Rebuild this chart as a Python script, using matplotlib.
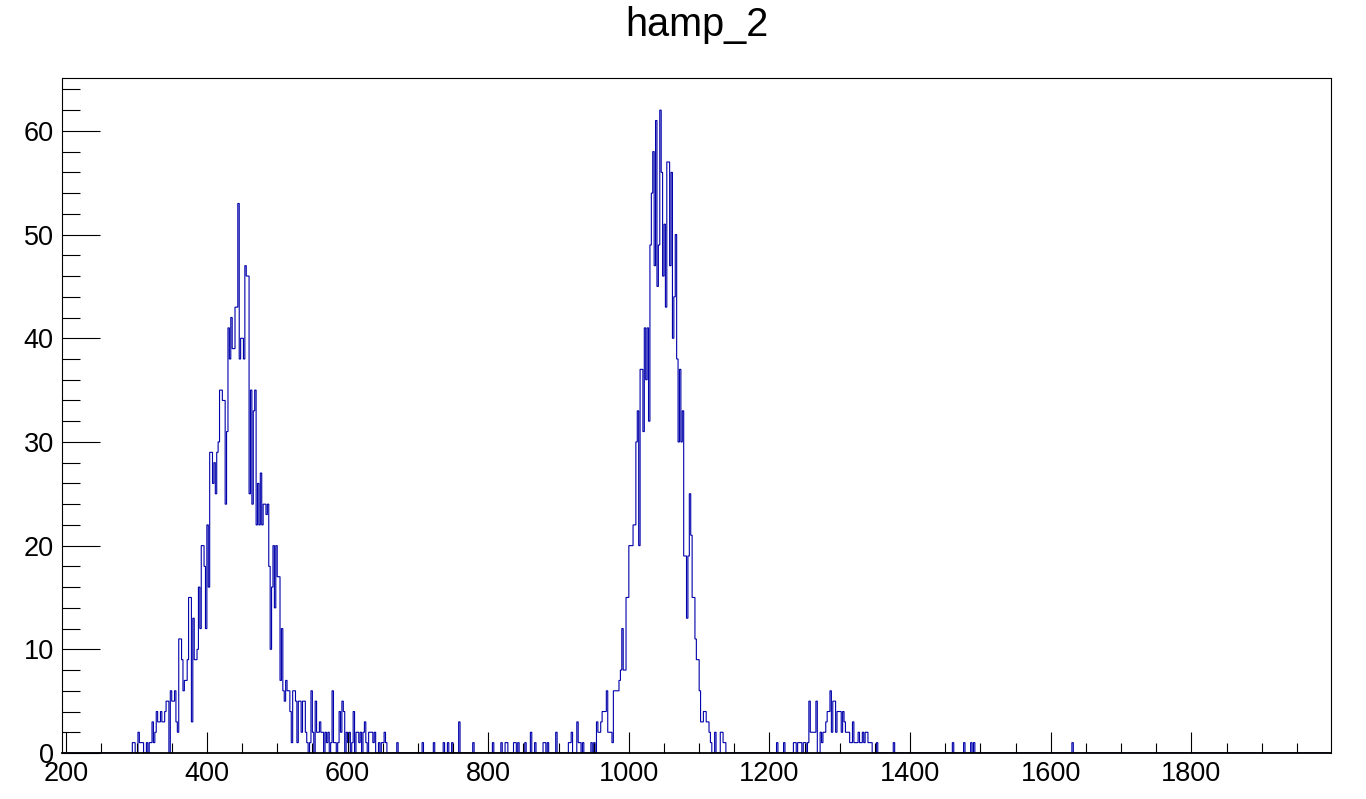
import numpy as np
import matplotlib
matplotlib.use("Agg")
import matplotlib.pyplot as plt
from matplotlib.ticker import MultipleLocator

# --- histogram data (bin width 2, counts) ----------------------------------
TITLE = "hamp_2"
BIN_WIDTH = 2
X_RANGE = (194, 1998)

# first peak, bins starting at 292
PEAK1_START = 292
PEAK1_COUNTS = [
    0, 1, 1, 0, 0, 2, 1, 1, 1, 0, 0, 1, 0, 1, 1, 3, 1, 2, 4, 3,
    3, 4, 3, 3, 4, 5, 5, 0, 6, 5, 5, 6, 3, 2, 11, 11, 9, 6, 7, 7,
    9, 15, 15, 3, 13, 9, 9, 10, 16, 12, 20, 20, 18, 12, 22, 16, 29, 29, 26, 28,
    25, 29, 30, 35, 35, 34, 34, 24, 31, 41, 38, 42, 39, 39, 43, 43, 53, 38, 40, 40,
    38, 47, 46, 46, 25, 35, 24, 33, 35, 22, 26, 22, 27, 22, 24, 24, 23, 24, 18, 10,
    16, 20, 14, 20, 17, 17, 7, 12, 6, 5, 7, 6, 6, 4, 1, 6, 6, 5, 1, 5,
    5, 2, 5, 5, 2, 1, 0, 1, 6, 2, 0, 5, 2, 2, 3, 2, 2, 0, 2, 1,
    2, 0, 1, 6, 1, 1, 0, 1, 4, 2, 5, 4, 0, 2, 1, 2, 0, 1, 4, 0,
    2, 2, 1, 2, 0, 2, 3, 1, 0, 2, 2, 2, 1, 2, 0, 0, 1, 0, 1, 1,
    2, 1,
]

# second peak, bins starting at 914
PEAK2_START = 914
PEAK2_COUNTS = [
    1, 1, 2, 0, 0, 0, 3, 1, 1, 0, 1, 0, 0, 0, 0, 0, 1, 0, 1, 0,
    3, 2, 2, 3, 4, 4, 4, 6, 2, 2, 2, 1, 6, 6, 6, 6, 7, 8, 12, 8,
    8, 15, 15, 20, 20, 20, 22, 22, 30, 33, 20, 37, 37, 31, 41, 36, 41, 32, 49, 54,
    58, 47, 61, 45, 49, 62, 56, 46, 51, 43, 57, 57, 47, 56, 40, 44, 50, 38, 30, 37,
    30, 33, 19, 19, 13, 19, 25, 21, 15, 15, 11, 9, 9, 6, 3, 3, 4, 4, 3, 3,
    2, 1, 0, 0, 2, 0, 0, 0, 2, 2, 1, 1,
]

# small third bump, bins starting at 1234
PEAK3_START = 1234
PEAK3_COUNTS = [
    1, 1, 0, 1, 1, 1, 0, 1, 1, 0, 1, 5, 2, 2, 2, 2, 5, 0, 0, 2,
    1, 2, 2, 3, 4, 4, 6, 2, 5, 5, 2, 4, 4, 4, 2, 4, 3, 2, 2, 2,
    1, 1, 3, 1, 1, 1, 2, 1, 1, 2, 1, 2, 2, 1, 1, 1,
]

# isolated entries between the peaks (bin low edge, count)
SINGLE_X = [670, 706, 722, 736, 742, 748, 758, 778, 806, 818,
            824, 826, 836, 838, 842, 852, 860, 866, 878, 880,
            884, 896, 1210, 1220, 1352, 1376, 1460, 1476, 1486, 1490,
            1630]
SINGLE_COUNTS = [1, 1, 1, 1, 1, 1, 3, 1, 1, 1,
                 1, 1, 1, 1, 1, 1, 2, 1, 1, 1,
                 1, 2, 1, 1, 1, 1, 1, 1, 1, 1,
                 1]

# --- build the full histogram --------------------------------------------
edges = np.arange(X_RANGE[0], X_RANGE[1] + BIN_WIDTH, BIN_WIDTH)
counts = np.zeros(len(edges) - 1)


def idx(x):
    return int(round((x - X_RANGE[0]) / BIN_WIDTH))


for start, vals in [(PEAK1_START, PEAK1_COUNTS),
                    (PEAK2_START, PEAK2_COUNTS),
                    (PEAK3_START, PEAK3_COUNTS)]:
    i0 = idx(start)
    counts[i0:i0 + len(vals)] = vals
for x, c in zip(SINGLE_X, SINGLE_COUNTS):
    counts[idx(x)] = c

# --- figure ----------------------------------------------------------------
plt.rcParams["font.family"] = ["Liberation Sans", "DejaVu Sans"]

fig = plt.figure(figsize=(13.66, 7.99), dpi=100)
ax = fig.add_axes([62 / 1366, 46 / 799, (1330.7 - 62) / 1366, (753 - 78) / 799])

ax.stairs(counts, edges, color="#0000aa", linewidth=0.8, baseline=0, zorder=1)

ax.set_xlim(X_RANGE)
ax.set_ylim(0, 1.05 * counts.max())

ax.xaxis.set_major_locator(MultipleLocator(200))
ax.xaxis.set_minor_locator(MultipleLocator(50))
ax.yaxis.set_major_locator(MultipleLocator(10))
ax.yaxis.set_minor_locator(MultipleLocator(2))

ax.tick_params(axis="both", which="both", direction="in", width=0.8,
               labelsize=19.5, top=False, right=False)
ax.tick_params(axis="y", which="major", length=27, pad=6)
ax.tick_params(axis="y", which="minor", length=13)
ax.tick_params(axis="x", which="major", length=15, pad=6)
ax.tick_params(axis="x", which="minor", length=7.5)

for sp in ax.spines.values():
    sp.set_linewidth(0.8)
    sp.set_zorder(3)
# thicker black bottom spine hides the zero-count stretches of the outline
ax.spines["bottom"].set_linewidth(1.3)

fig.text(0.51, 1 - 36 / 799, TITLE, ha="center", va="baseline", fontsize=28.5)

fig.savefig("out.png", dpi=100)
